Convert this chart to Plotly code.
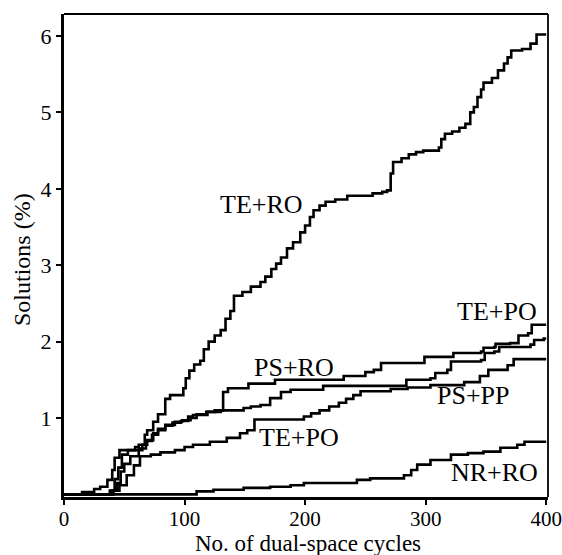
import plotly.graph_objects as go

# ---- data ----
te_ro_x = [0, 15, 25, 30, 36, 40, 42, 46, 59, 62,
           67, 69, 74, 78, 84, 88, 99, 101, 104, 108,
           113, 116, 120, 125, 130, 134, 138, 141, 148, 155,
           163, 167, 172, 176, 180, 185, 190, 196, 200, 204,
           207, 212, 217, 225, 235, 256, 264, 268, 271, 273,
           280, 286, 292, 298, 311, 313, 316, 322, 328, 333,
           337, 340, 343, 346, 348, 355, 360, 365, 368, 371,
           380, 387, 392, 400]
te_ro_y = [0, 0.03, 0.07, 0.10, 0.19, 0.32, 0.48, 0.58, 0.62, 0.65,
           0.78, 0.84, 0.95, 1.05, 1.25, 1.30, 1.39, 1.52, 1.62, 1.70,
           1.75, 1.90, 2.00, 2.08, 2.15, 2.30, 2.40, 2.60, 2.65, 2.72,
           2.78, 2.85, 2.95, 3.02, 3.10, 3.22, 3.30, 3.43, 3.52, 3.63,
           3.72, 3.78, 3.83, 3.86, 3.91, 3.94, 3.96, 3.98, 4.20, 4.35,
           4.40, 4.45, 4.48, 4.50, 4.54, 4.65, 4.72, 4.75, 4.80, 4.85,
           5.00, 5.07, 5.20, 5.30, 5.39, 5.45, 5.55, 5.64, 5.72, 5.81,
           5.83, 5.90, 6.02, 6.02]

ps_ro_x = [0, 38, 42, 45, 48, 53, 65, 69, 74, 78,
           84, 92, 98, 105, 110, 118, 125, 132, 136, 153,
           175, 232, 250, 257, 263, 299, 323, 346, 348, 357,
           358, 370, 377, 385, 388, 400]
ps_ro_y = [0, 0.05, 0.20, 0.35, 0.52, 0.58, 0.65, 0.71, 0.80, 0.84,
           0.91, 0.95, 0.97, 1.00, 1.05, 1.08, 1.10, 1.34, 1.39, 1.45,
           1.50, 1.55, 1.60, 1.63, 1.72, 1.80, 1.85, 1.87, 1.92, 1.93,
           1.97, 1.98, 2.08, 2.11, 2.22, 2.22]

ps_pp_x = [0, 40, 44, 47, 50, 55, 62, 68, 73, 78,
           84, 90, 97, 103, 107, 119, 130, 149, 155, 163,
           171, 180, 188, 215, 284, 304, 308, 318, 321, 346,
           349, 357, 361, 387, 390, 398, 400]
ps_pp_y = [0, 0.05, 0.15, 0.30, 0.40, 0.50, 0.60, 0.70, 0.78, 0.86,
           0.90, 0.94, 0.96, 1.02, 1.04, 1.08, 1.10, 1.13, 1.15, 1.17,
           1.26, 1.34, 1.37, 1.42, 1.50, 1.52, 1.59, 1.63, 1.74, 1.76,
           1.85, 1.87, 1.93, 1.96, 2.02, 2.04, 2.04]

te_po_x = [0, 41, 46, 52, 58, 63, 72, 80, 92, 100,
           107, 121, 135, 146, 152, 158, 199, 205, 212, 220,
           228, 234, 240, 246, 271, 285, 304, 332, 345, 352,
           368, 373, 400]
te_po_y = [0, 0.05, 0.12, 0.25, 0.38, 0.50, 0.52, 0.55, 0.58, 0.62,
           0.65, 0.69, 0.74, 0.80, 0.84, 0.98, 1.02, 1.06, 1.10, 1.15,
           1.20, 1.25, 1.30, 1.35, 1.38, 1.40, 1.43, 1.47, 1.55, 1.63,
           1.69, 1.77, 1.77]

nr_ro_x = [0, 110, 124, 149, 171, 188, 199, 243, 254, 282,
           288, 293, 304, 321, 335, 348, 362, 376, 382, 400]
nr_ro_y = [0, 0.04, 0.06, 0.085, 0.10, 0.12, 0.15, 0.19, 0.21, 0.25,
           0.32, 0.39, 0.45, 0.52, 0.54, 0.56, 0.61, 0.65, 0.69, 0.69]

series = [
    (te_ro_x, te_ro_y),
    (ps_ro_x, ps_ro_y),
    (ps_pp_x, ps_pp_y),
    (te_po_x, te_po_y),
    (nr_ro_x, nr_ro_y),
]

label_texts = ["TE+RO", "TE+PO", "PS+RO", "PS+PP", "TE+PO", "NR+RO"]
label_x = [164, 359, 191, 340, 195, 357]
label_y = [3.79, 2.39, 1.66, 1.30, 0.75, 0.29]

x_ticks = [0, 100, 200, 300, 400]
y_ticks = [1, 2, 3, 4, 5, 6]
x_title = "No. of dual-space cycles"
y_title = "Solutions (%)"

FONT = "Liberation Serif, Times New Roman, serif"
W, H = 562, 555
ML, MR, MT, MB = 64, 14, 14, 58

fig = go.Figure()
for xs, ys in series:
    n = min(len(xs), len(ys))
    fig.add_trace(go.Scatter(
        x=xs[:n], y=ys[:n], mode="lines", line_shape="hv",
        line=dict(color="black", width=2.6), showlegend=False,
        hoverinfo="skip"))

for t, lx, ly in zip(label_texts, label_x, label_y):
    fig.add_annotation(x=lx, y=ly, xref="x", yref="y", text=t,
                       showarrow=False, font=dict(family=FONT, size=26, color="black"))

# axis titles placed as annotations (paper coords relative to plot area)
pw, ph = W - ML - MR, H - MT - MB
fig.add_annotation(text=x_title, xref="paper", yref="paper",
                   x=(308 - ML) / pw, y=-(543 - (H - MB)) / ph,
                   showarrow=False, xanchor="center", yanchor="middle",
                   font=dict(family=FONT, size=23, color="black"))
fig.add_annotation(text=y_title, xref="paper", yref="paper",
                   x=-(ML - 22) / pw, y=((H - MB) - 260) / ph,
                   showarrow=False, xanchor="center", yanchor="middle", textangle=-90,
                   font=dict(family=FONT, size=24, color="black"))

# thinner top/right frame
fig.add_shape(type="line", xref="paper", yref="paper", x0=0, x1=1, y0=1, y1=1,
              line=dict(color="black", width=1.8))
fig.add_shape(type="line", xref="paper", yref="paper", x0=1, x1=1, y0=0, y1=1,
              line=dict(color="black", width=1.8))

fig.update_layout(
    width=W, height=H,
    margin=dict(l=ML, r=MR, t=MT, b=MB, autoexpand=False),
    paper_bgcolor="white", plot_bgcolor="white",
    font=dict(family=FONT, color="black", size=21),
    xaxis=dict(range=[0, 401.5], tickvals=x_ticks, ticks="outside", ticklen=5,
               tickwidth=2, tickcolor="black", showgrid=False, zeroline=False,
               showline=True, linecolor="black", linewidth=3, automargin=False,
               ticklabeloverflow="allow", ticklabelstandoff=-4,
               tickfont=dict(size=21)),
    yaxis=dict(range=[-0.034, 6.288], tickvals=y_ticks, ticks="outside", ticklen=5,
               tickwidth=2, tickcolor="black", showgrid=False, zeroline=False,
               showline=True, linecolor="black", linewidth=3, automargin=False,
               ticklabeloverflow="allow", tickfont=dict(size=22)),
)

fig.write_html("out.html", config={"displayModeBar": False},
               post_script="document.body.style.margin='0';document.body.style.overflow='hidden';")
